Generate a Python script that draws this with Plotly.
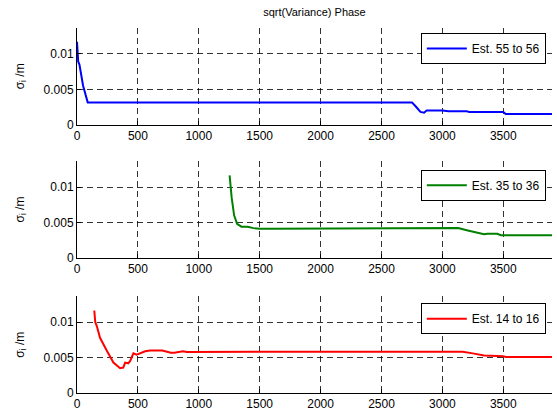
import plotly.graph_objects as go

# Top: Est. 55 to 56
x1 = [0, 10, 20, 50, 88, 500, 1000, 2000, 2750, 2780, 2820, 2850, 2870, 3000, 3050, 3200, 3220, 3500, 3520, 3900]
y1 = [0.0117, 0.0089, 0.0085, 0.0055, 0.00315, 0.00315, 0.00315, 0.00315, 0.00315, 0.0026, 0.0018, 0.0017, 0.0020, 0.0020, 0.0019, 0.0019, 0.0018, 0.0018, 0.0015, 0.0015]

# Middle: Est. 35 to 36
x2 = [1253, 1270, 1290, 1314, 1350, 1400, 1450, 1500, 1600, 2000, 2500, 3000, 3100, 3130, 3200, 3280, 3342, 3370, 3450, 3480, 3900]
y2 = [0.01165, 0.0085, 0.0060, 0.0048, 0.0044, 0.0044, 0.0042, 0.0041, 0.0041, 0.0041, 0.0041, 0.0041, 0.0041, 0.0042, 0.0039, 0.0036, 0.00333, 0.0034, 0.0034, 0.0032, 0.0032]

# Bottom: Est. 14 to 16
x3 = [142, 150, 162, 189, 244, 299, 354, 380, 395, 420, 436, 463, 490, 518, 560, 600, 700, 770, 800, 870, 900, 1500, 2500, 3166, 3250, 3342, 3500, 3520, 3900]
y3 = [0.01166, 0.0100, 0.0095, 0.0078, 0.0060, 0.0043, 0.0035, 0.0036, 0.0043, 0.0042, 0.0045, 0.0056, 0.0054, 0.0056, 0.0059, 0.0060, 0.0060, 0.0057, 0.0057, 0.0059, 0.0058, 0.00583, 0.00583, 0.00583, 0.0056, 0.0053, 0.0052, 0.0051, 0.0051]

names = ["Est. 55 to 56", "Est. 35 to 36", "Est. 14 to 16"]
colors = ["#0000FF", "#008000", "#FF0000"]
xs = [x1, x2, x3]
ys = [y1, y2, y3]

xticks = [0, 500, 1000, 1500, 2000, 2500, 3000, 3500]
yticks = [0, 0.005, 0.01]
ytick_text = ["0", "0.005", "0.01"]

domains = [[0.7351, 1.0], [0.3703, 0.6351], [0.0, 0.2649]]
legend_y = [0.9865, 0.6116, 0.2459]
FONT = "Liberation Sans, Arial, sans-serif"

fig = go.Figure()
layout = dict(
    width=557, height=416,
    margin=dict(l=77, r=5, t=28, b=18),
    paper_bgcolor="white", plot_bgcolor="white",
    font=dict(family=FONT, size=12, color="black"),
    title=dict(text="sqrt(Variance) Phase", x=0.5, xref="paper", xanchor="center",
               y=1 - 12 / 416, yref="container", yanchor="middle",
               font=dict(size=11, family=FONT, color="black")),
    showlegend=True,
)

for i in range(3):
    sfx = "" if i == 0 else str(i + 1)
    fig.add_trace(go.Scatter(
        x=xs[i], y=ys[i], mode="lines", name=names[i],
        line=dict(color=colors[i], width=2),
        xaxis="x" + sfx, yaxis="y" + sfx,
        legend="legend" + sfx,
    ))
    layout["xaxis" + sfx] = dict(
        domain=[0, 1], anchor="y" + sfx, range=[0, 3900],
        tickvals=xticks, ticks="inside", ticklen=4, tickcolor="black",
        showline=True, linecolor="black", linewidth=1, mirror=False,
        showgrid=True, gridcolor="rgba(0,0,0,0.8)", gridwidth=1, griddash="6px,4px",
        zeroline=False, tickfont=dict(size=12, family=FONT),
    )
    layout["yaxis" + sfx] = dict(
        domain=domains[i], anchor="x" + sfx, range=[0, 0.01366],
        tickvals=yticks, ticktext=ytick_text, ticks="inside", ticklen=4, tickcolor="black",
        showline=True, linecolor="black", linewidth=1, mirror=False,
        showgrid=True, gridcolor="rgba(0,0,0,0.8)", gridwidth=1, griddash="6px,4px",
        zeroline=False, tickfont=dict(size=12, family=FONT),
        title=dict(text="σ<sub>i</sub> /m", standoff=16, font=dict(size=12, family=FONT)),
    )
    layout["legend" + sfx] = dict(
        x=0.987, xanchor="right", y=legend_y[i], yanchor="top",
        bgcolor="white", bordercolor="black", borderwidth=1,
        font=dict(size=12, family=FONT), itemwidth=40,
    )

fig.update_layout(**layout)
fig.write_html("out.html")
